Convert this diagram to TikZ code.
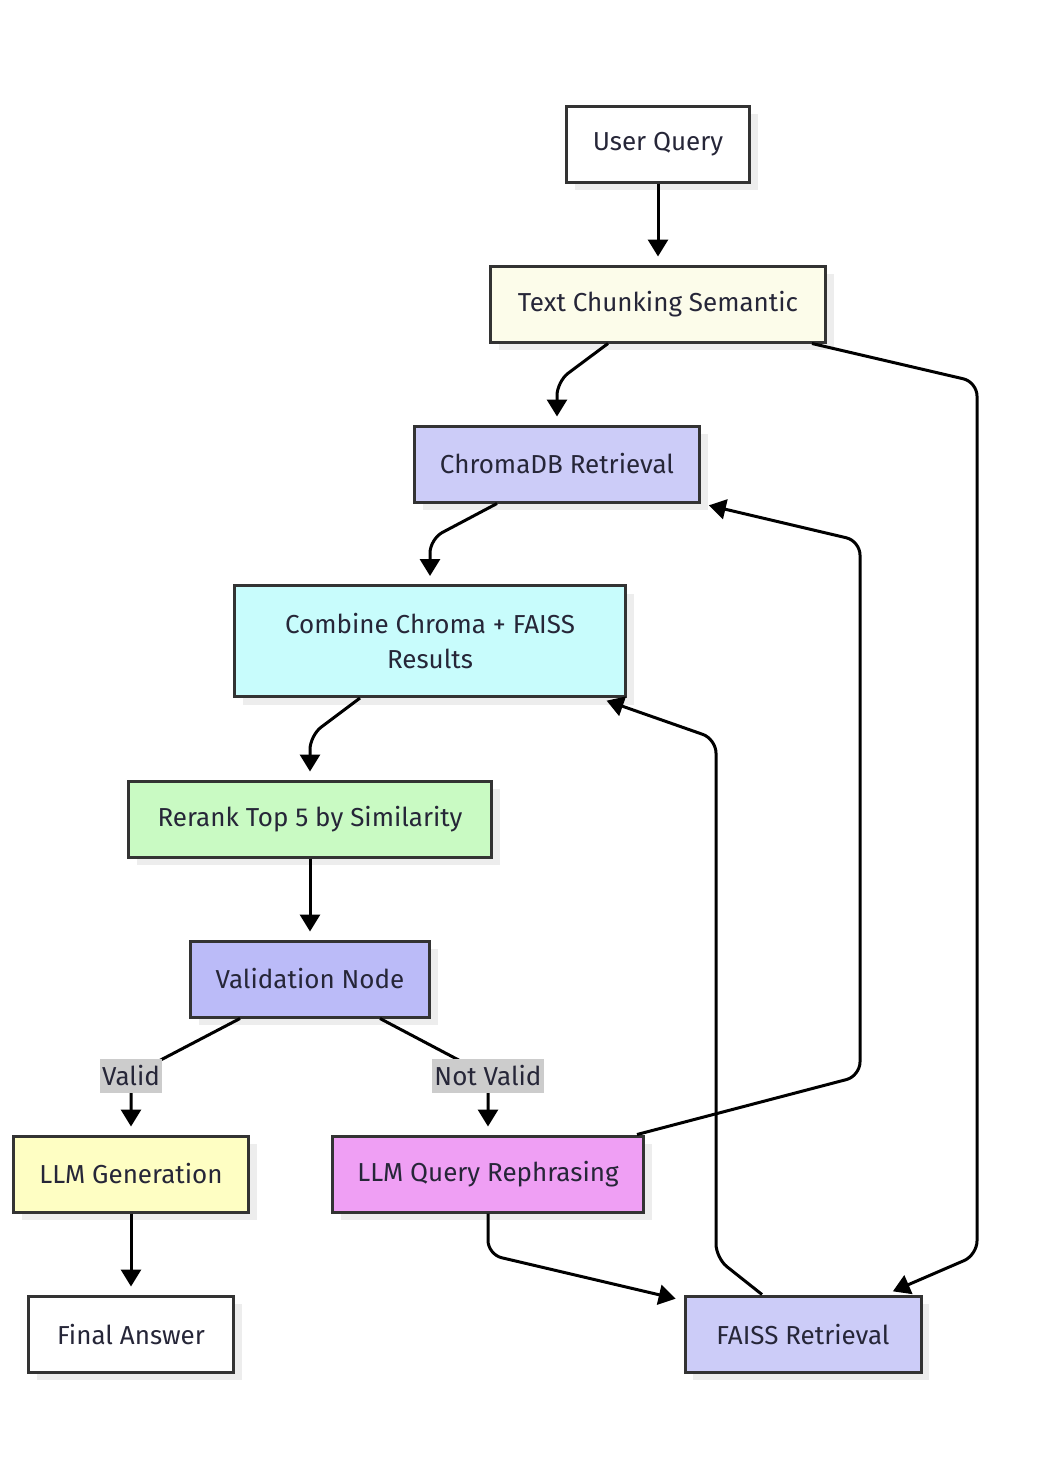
\documentclass[tikz,border=0pt]{standalone}
\usepackage{fontspec}
\setmainfont{Fira Sans}
\usetikzlibrary{arrows.meta,calc,shadows}

\definecolor{ink}{HTML}{333333}
\definecolor{txt}{HTML}{262638}
\definecolor{shade}{HTML}{EDEDED}
\definecolor{lblgray}{HTML}{CCCCCC}
\definecolor{ivory}{HTML}{FCFCEA}
\definecolor{lavender}{HTML}{CCCCF8}
\definecolor{violet}{HTML}{BBBBF8}
\definecolor{cyan}{HTML}{C8FCFC}
\definecolor{mint}{HTML}{C9FAC3}
\definecolor{lemon}{HTML}{FEFEC3}
\definecolor{orchid}{HTML}{EF9FF4}

\begin{document}
\begin{tikzpicture}[
    x = 0.5pt,
    y = -0.5pt,
    line width = 1.5pt,
    >={Triangle[length=8.5pt,width=10pt]},
    box/.style = {
      draw = ink,
      rectangle,
      inner sep = 0pt,
      minimum height = 38pt,
      text = txt,
      align = center,
      font = \fontsize{13}{17.5}\selectfont,
      drop shadow = {shadow xshift=4pt, shadow yshift=-4pt, fill=shade, opacity=1}
    },
    lbl/.style = {
      sharp corners,
      fill = lblgray,
      inner xsep = 1pt,
      inner ysep = 0pt,
      minimum height = 17pt,
      text = txt,
      font = \fontsize{13}{14}\selectfont
    },
    flow/.style = {
      ->,
      rounded corners = 7pt,
      shorten > = 4pt
    }
  ]
  \useasboundingbox (0,0) rectangle (1044,1468);

  \node[box, fill=white, minimum width=91.5pt]   (user)   at (658,144)  {User Query};
  \node[box, fill=ivory, minimum width=167.5pt]  (tc)     at (658,304)  {Text Chunking Semantic};
  \node[box, fill=lavender, minimum width=142.5pt] (chroma) at (557,464) {ChromaDB Retrieval};
  \node[box, fill=cyan, minimum width=195.5pt, minimum height=55.5pt] (comb) at (430,641) {Combine Chroma + FAISS\\Results};
  \node[box, fill=mint, minimum width=181.5pt]   (rerank) at (310,819)  {Rerank Top 5 by Similarity};
  \node[box, fill=violet, minimum width=119.5pt] (val)    at (310,979)  {Validation Node};
  \node[box, fill=lemon, minimum width=117.5pt]  (gen)    at (131,1174) {LLM Generation};
  \node[box, fill=orchid, minimum width=155.5pt] (rephr)  at (488,1174) {LLM Query Rephrasing};
  \node[box, fill=white, minimum width=102.5pt]  (final)  at (131,1334) {Final Answer};
  \node[box, fill=lavender, minimum width=118pt] (faiss)  at (803,1334) {FAISS Retrieval};

  % main chain
  \draw[flow] (user) -- (tc);
  \draw[flow] ($(tc.south)+(-50,0)$) -- ($(chroma.north)+(0,-43)$) -- (chroma.north);
  \draw[flow] ($(chroma.south)+(-60,0)$) -- ($(comb.north)+(0,-45)$) -- (comb.north);
  \draw[flow] ($(comb.south)+(-70,0)$) -- ($(rerank.north)+(0,-44)$) -- (rerank.north);
  \draw[flow] (rerank) -- (val);

  % branches
  \draw[flow] ($(val.south)+(-70,0)$) -- ($(gen.north)+(0,-59)$) node[lbl] (valid) {Valid} -- (gen.north);
  \draw[flow] ($(val.south)+(70,0)$) -- ($(rephr.north)+(0,-59)$) node[lbl] (notvalid) {Not Valid} -- (rephr.north);
  \draw[flow] (gen) -- (final);

  % loops back
  \draw[flow] ($(tc.south east)+(-15,0)$) -- (977,382) -- (977,1255) -- ($(faiss.north east)+(-37,0)$);
  \draw[flow] (rephr.south) -- ($(rephr.south)+(0,41)$) -- ($(faiss.north west)+(0,6)$);
  \draw[flow] ($(rephr.north east)+(-8,0)$) -- (860,1076) -- (860,541) -- (chroma.south east);
  \draw[flow] ($(faiss.north)+(-41,0)$) -- (716,1258) -- (716,739) -- ($(comb.south east)+(-28,0)$);
\end{tikzpicture}
\end{document}
